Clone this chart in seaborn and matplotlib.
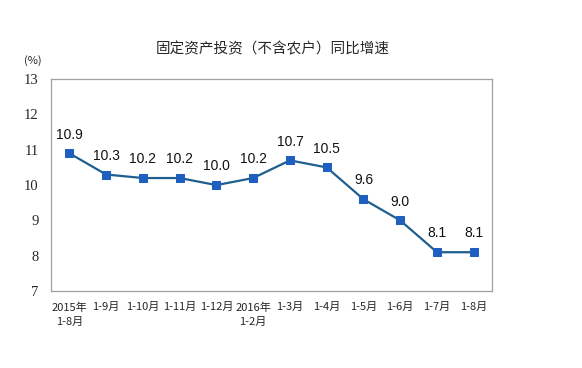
import seaborn as sns
import matplotlib.pyplot as plt
import numpy as np
import pandas as pd

# data
periods = ["2015年\n1-8月", "1-9月", "1-10月", "1-11月", "1-12月", "2016年\n1-2月",
           "1-3月", "1-4月", "1-5月", "1-6月", "1-7月", "1-8月"]
growth = [10.9, 10.3, 10.2, 10.2, 10.0, 10.2, 10.7, 10.5, 9.6, 9.0, 8.1, 8.1]

df = pd.DataFrame({"period": periods, "growth": growth})
df["pos"] = np.arange(len(df))

sns.set_style("white")
plt.rcParams["font.family"] = ["Noto Sans CJK SC", "DejaVu Sans"]

fig = plt.figure(figsize=(5.82, 3.68), dpi=100)
ax = fig.add_axes([0.0876, 0.209, 0.758, 0.576])

sns.lineplot(data=df, x="pos", y="growth", ax=ax, color="#1f5f8f", linewidth=1.6,
             marker="s", markersize=6, markerfacecolor="#1f5fbf",
             markeredgecolor="#1f5fbf")

# value labels above each point
for x, y in zip(df["pos"], df["growth"]):
    ax.annotate(f"{y:.1f}", (x, y), xytext=(0, 8.5), textcoords="offset points",
                ha="center", va="bottom", fontsize=10, family="Liberation Sans",
                color="#111111")

ax.set_xlim(-0.5, len(df) - 0.5)
ax.set_ylim(7, 13)
ax.set_yticks(range(7, 14))
ax.set_yticklabels([str(v) for v in range(7, 14)], family="Liberation Serif", fontsize=10.5)

# category labels centered, tick marks on category boundaries
ax.set_xticks(df["pos"])
ax.set_xticklabels(df["period"], fontsize=8, linespacing=1.5, va="top")
ax.tick_params(axis="x", length=0, pad=8)
ax.set_xticks(np.arange(0.5, len(df) - 0.5), minor=True)
ax.tick_params(axis="x", which="minor", direction="in", length=4, color="#999999")
ax.tick_params(axis="y", direction="in", length=4, color="#999999", pad=9)

for s in ax.spines.values():
    s.set_color("#a0a0a0")
    s.set_linewidth(0.9)

ax.set_xlabel("")
ax.set_ylabel("")
fig.text(0.042, 0.835, "(%)", fontsize=8, ha="left", va="center")
fig.text(0.469, 0.866, "固定资产投资（不含农户）同比增速", fontsize=10.5,
         ha="center", va="center", fontweight="medium")

fig.savefig("out.png", dpi=100)
